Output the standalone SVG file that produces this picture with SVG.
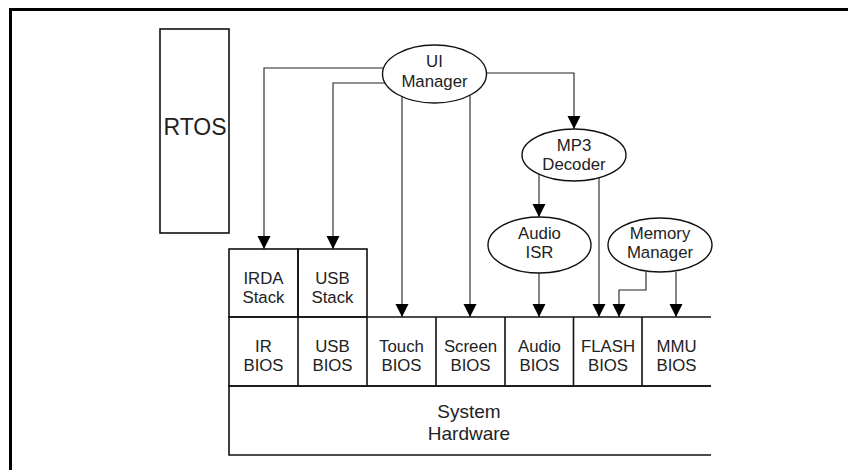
<svg xmlns="http://www.w3.org/2000/svg" width="848" height="470" viewBox="0 0 848 470">
<style>
  .box { fill: none; stroke: #111; stroke-width: 1.6; }
  .ell { fill: #fff; stroke: #111; stroke-width: 1.4; }
  .t { font-family: "Liberation Sans", Arial, sans-serif; font-size: 16.8px; fill: #222; text-anchor: middle; }
  .conn { fill: none; stroke: #222; stroke-width: 1.1; marker-end: url(#ah); }
</style>
<defs>
  <marker id="ah" markerUnits="userSpaceOnUse" markerWidth="14" markerHeight="14" refX="13" refY="6.5" orient="auto" viewBox="0 0 14 14">
    <path d="M0,0 L13,6.5 L0,13 Z" fill="#000"/>
  </marker>
</defs>
<rect width="848" height="470" fill="#fff"/>
<path d="M10.5,470 V9.5 H848" fill="none" stroke="#000" stroke-width="3"/>

<g id="rtos">
  <rect class="box" x="160" y="29" width="69" height="204"/>
  <text class="t" x="195" y="135" style="font-size:23px">RTOS</text>
</g>

<g id="connectors">
  <path class="conn" d="M384,68 H264 V249"/>
  <path class="conn" d="M385,83 H333 V249"/>
  <path class="conn" d="M402,96 V317"/>
  <path class="conn" d="M470,95 V317"/>
  <path class="conn" d="M486.5,73 H574 V129"/>
  <path class="conn" d="M539,174 V217"/>
  <path class="conn" d="M599,178 V317"/>
  <path class="conn" d="M539,273 V317"/>
  <path class="conn" d="M646,272 V290 H619 V317"/>
  <path class="conn" d="M676,272 V317"/>
</g>

<g id="ui-manager">
  <ellipse class="ell" cx="434.5" cy="74" rx="52" ry="29"/>
  <text class="t" x="434.5" y="67">UI</text>
  <text class="t" x="434.5" y="87">Manager</text>
</g>
<g id="mp3-decoder">
  <ellipse class="ell" cx="574" cy="155" rx="52" ry="26"/>
  <text class="t" x="574" y="151">MP3</text>
  <text class="t" x="574" y="170">Decoder</text>
</g>
<g id="audio-isr">
  <ellipse class="ell" cx="539.5" cy="245" rx="51.5" ry="28"/>
  <text class="t" x="539.5" y="239">Audio</text>
  <text class="t" x="539.5" y="258">ISR</text>
</g>
<g id="memory-manager">
  <ellipse class="ell" cx="660" cy="245" rx="52" ry="27"/>
  <text class="t" x="660" y="239">Memory</text>
  <text class="t" x="660" y="258">Manager</text>
</g>

<g id="irda-stack">
  <rect class="box" x="229" y="249" width="69" height="68"/>
  <text class="t" x="263.5" y="284">IRDA</text>
  <text class="t" x="263.5" y="303">Stack</text>
</g>
<g id="usb-stack">
  <rect class="box" x="298" y="249" width="69" height="68"/>
  <text class="t" x="332.5" y="284">USB</text>
  <text class="t" x="332.5" y="303">Stack</text>
</g>

<g id="bios-row">
  <path class="box" d="M711,317 H229 V386 H711 M298,317 V386 M367,317 V386 M436,317 V386 M505,317 V386 M573.5,317 V386 M642,317 V386"/>
</g>
<g id="ir-bios"><text class="t" x="263.5" y="352">IR</text><text class="t" x="263.5" y="371">BIOS</text></g>
<g id="usb-bios"><text class="t" x="332.5" y="352">USB</text><text class="t" x="332.5" y="371">BIOS</text></g>
<g id="touch-bios"><text class="t" x="401.5" y="352">Touch</text><text class="t" x="401.5" y="371">BIOS</text></g>
<g id="screen-bios"><text class="t" x="470.5" y="352">Screen</text><text class="t" x="470.5" y="371">BIOS</text></g>
<g id="audio-bios"><text class="t" x="539.5" y="352">Audio</text><text class="t" x="539.5" y="371">BIOS</text></g>
<g id="flash-bios"><text class="t" x="608" y="352">FLASH</text><text class="t" x="608" y="371">BIOS</text></g>
<g id="mmu-bios"><text class="t" x="676.5" y="352">MMU</text><text class="t" x="676.5" y="371">BIOS</text></g>

<g id="system-hardware">
  <path class="box" d="M711,386 H229 V455 H711"/>
  <text class="t" x="469" y="418" style="font-size:19px">System</text>
  <text class="t" x="469" y="440" style="font-size:19px">Hardware</text>
</g>
</svg>
